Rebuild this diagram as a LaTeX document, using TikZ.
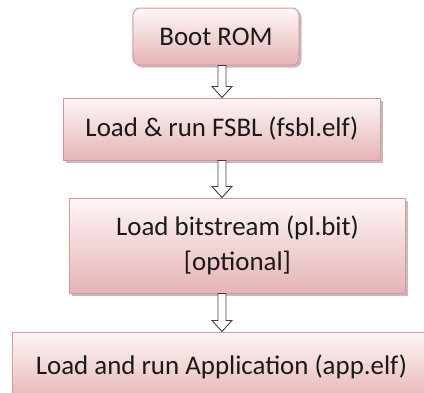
\documentclass[tikz,border=0pt]{standalone}
\usepackage{fontspec}
\setmainfont{Carlito}
\usetikzlibrary{calc,shadows}

\definecolor{boxedge}{HTML}{D9979A}
\definecolor{boxtop}{HTML}{FEF7F7}
\definecolor{boxbot}{HTML}{E6B3B5}
\definecolor{arrowedge}{HTML}{3C3C3C}

\tikzset{
  stage/.style={draw=boxedge, line width=1bp, top color=boxtop, bottom color=boxbot,
    drop shadow={shadow xshift=2.5bp, shadow yshift=-2.5bp, opacity=0.45, fill=black!55},
    inner sep=0pt, align=center, text=black!90,
    font=\fontsize{27}{35}\selectfont},
  arrowline/.style={draw=arrowedge, fill=white, line width=0.9bp, line join=miter},
}

% hollow block arrow from the bottom of one stage to the top of the next
\newcommand\flowarrow[2]{%
  \path[arrowline] let \p1=(#1), \p2=(#2) in
    (\x1-4pt,\y1) -- (\x1+4pt,\y1) -- (\x1+4pt,\y2+11pt) -- (\x1+10pt,\y2+11pt)
    -- (\x1,\y2) -- (\x1-10pt,\y2+11pt) -- (\x1-4pt,\y2+11pt) -- cycle;}

\begin{document}
\begin{tikzpicture}[x=1bp, y=-1bp]
  \useasboundingbox (0,0) rectangle (424,393);
  \clip (0,0) rectangle (424,393);
  \fill[white] (0,0) rectangle (424,393);

  \coordinate (spine) at (222,0);

  \node[stage, rounded corners=7bp, minimum width=166bp, minimum height=57bp]
    (boot) at (216,36.5) {Boot ROM};
  \node[stage, minimum width=316bp, minimum height=62bp]
    (fsbl) at (222,129) {Load \& run FSBL (fsbl.elf)};
  \node[stage, minimum width=335bp, minimum height=95bp]
    (bit) at (237.5,245.5) {Load bitstream (pl.bit)\\{}[optional]};
  \node[stage, minimum width=417bp, minimum height=70bp]
    (app) at (221.5,367) {Load and run Application (app.elf)};

  \flowarrow{boot.south -| spine}{fsbl.north -| spine}
  \flowarrow{fsbl.south -| spine}{bit.north -| spine}
  \flowarrow{bit.south -| spine}{app.north -| spine}
\end{tikzpicture}
\end{document}
